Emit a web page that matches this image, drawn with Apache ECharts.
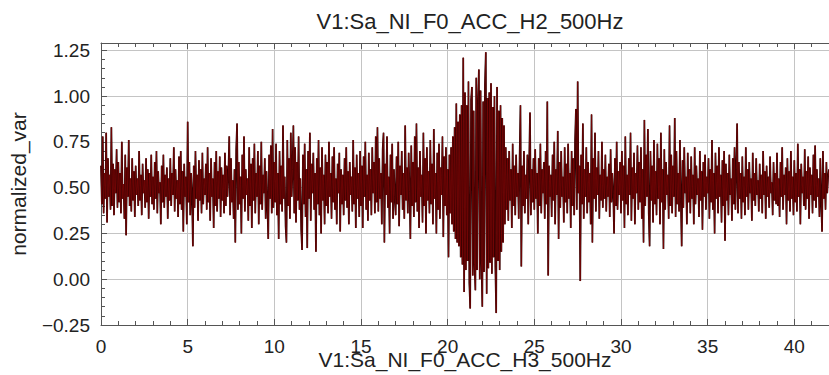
<!DOCTYPE html>
<html>
<head>
<meta charset="utf-8">
<script src="https://cdn.jsdelivr.net/npm/echarts@6/dist/echarts.min.js"></script>
<style>
html,body{margin:0;padding:0;background:#fff;}
#chart{width:829px;height:375px;}
</style>
</head>
<body>
<div id="chart"></div>
<script>
// ---- data (sample step 0.05 s) ----
const chartTitle = 'V1:Sa_NI_F0_ACC_H2_500Hz';
const xName = 'V1:Sa_NI_F0_ACC_H3_500Hz';
const yName = 'normalized_var';
const sampleStep = 0.05;
const xTicks = [0, 5, 10, 15, 20, 25, 30, 35, 40];
const yTicks = [-0.25, 0, 0.25, 0.5, 0.75, 1.0, 1.25];

const seg00_06 = [
 .62,.41,.78,.36,.58,.44,.80,.31,.66,.45,.57,.38,.83,.40,.63,.35,.60,.47,.71,.39,
 .64,.42,.58,.36,.75,.44,.52,.33,.68,.24,.61,.45,.76,.40,.55,.37,.66,.43,.59,.34,
 .62,.46,.55,.40,.70,.43,.57,.35,.63,.47,.54,.39,.66,.42,.60,.33,.58,.45,.68,.41,
 .56,.38,.64,.44,.70,.36,.59,.47,.53,.30,.62,.42,.68,.39,.57,.45,.61,.33,.55,.43,
 .66,.40,.58,.46,.72,.37,.60,.44,.54,.34,.67,.41,.70,.38,.59,.26,.63,.45,.56,.30,
 .86,.42,.64,.35,.58,.47,.18,.62,.39,.70,.44,.57,.32,.65,.43,.60,.36,.69,.41,.55
];
const seg06_12 = [
 .46,.63,.38,.72,.42,.58,.32,.66,.45,.55,.28,.64,.40,.70,.37,.59,.44,.67,.34,.61,
 .43,.57,.36,.69,.40,.62,.45,.58,.78,.35,.66,.42,.54,.33,.60,.20,.71,.85,.38,.64,
 .41,.56,.25,.68,.44,.78,.37,.60,.46,.55,.32,.72,.40,.63,.28,.66,.43,.74,.36,.58,
 .45,.70,.30,.62,.41,.75,.38,.57,.47,.66,.33,.59,.40,.22,.68,.44,.73,.36,.82,.39,
 .64,.42,.74,.35,.58,.22,.70,.41,.62,.37,.84,.44,.56,.29,.20,.76,.40,.66,.33,.80,
 .45,.60,.84,.36,.72,.31,.64,.43,.78,.38,.55,.27,.16,.68,.41,.74,.34,.60,.17,.70
];
const seg12_18 = [
 .44,.80,.32,.63,.47,.69,.38,.58,.15,.66,.41,.76,.35,.61,.25,.72,.43,.57,.30,.68,
 .40,.64,.36,.75,.45,.58,.33,.67,.42,.72,.38,.55,.30,.63,.47,.69,.26,.60,.41,.57,
 .35,.66,.43,.72,.39,.59,.30,.64,.46,.56,.37,.76,.41,.61,.28,.68,.44,.58,.34,.70,
 .40,.62,.28,.67,.45,.75,.38,.57,.32,.69,.43,.60,.35,.72,.47,.64,.36,.78,.42,.83,
 .37,.66,.44,.58,.30,.71,.80,.20,.63,.46,.78,.39,.56,.25,.68,.42,.74,.33,.60,.45,
 .35,.67,.41,.75,.29,.62,.46,.70,.38,.58,.33,.84,.43,.61,.36,.69,.48,.22,.73,.40
];
const seg18_24 = [
 .64,.34,.78,.42,.85,.37,.61,.28,.70,.45,.57,.31,.80,.40,.66,.25,.72,.43,.59,.36,
 .76,.41,.63,.30,.82,.44,.58,.25,.69,.38,.74,.33,.61,.46,.78,.23,.67,.40,.72,.35,
 .60,.12,.68,.36,.72,.30,.78,.26,.83,.22,.96,.20,.86,.18,.90,.12,.95,.08,1.21,-.07,
 1.02,.05,.95,.10,1.08,-.02,-.16,.98,1.05,.02,.92,.08,-.06,1.10,.05,.96,1.145,.00,1.03,.10,
 -.15,.97,.04,1.06,1.24,-.08,.99,.06,1.02,.09,1.07,.03,.94,.12,1.00,.07,-.185,1.05,.10,.92,
 .05,.95,.15,.88,.20,.84,.30,.72,.38,.66,.32,.70,.43,.60,.28,.74,.40,.62,.35,.68
];
const seg24_30 = [
 .45,.58,.33,.66,.95,.07,.62,.40,.70,.36,.57,.44,.68,.30,.63,.91,.35,.60,.42,.66,
 .38,.71,.44,.58,.25,.66,.40,.74,.36,.60,.47,.64,.33,.70,.41,.97,.02,.62,.45,.57,
 .34,.68,.43,.75,.30,.60,.46,.81,.22,.64,.39,.70,.45,.56,.31,.72,.42,.63,.36,.74,
 .44,.58,.28,.70,.40,.66,.35,.76,.93,.38,1.08,.47,.62,-.01,.68,.41,.85,.33,.60,.45,
 .72,.36,.64,.42,.58,.30,.90,.20,.66,.44,.80,.37,.61,.46,.70,.33,.57,.43,.75,.39,
 .60,.44,.68,.37,.56,.45,.63,.34,.71,.42,.58,.47,.25,.66,.40,.75,.38,.59,.46,.64
];
const seg30_36 = [
 .36,.70,.43,.62,.28,.78,.41,.57,.35,.66,.46,.80,.32,.61,.44,.69,.30,.58,.47,.73,
 .38,.64,.42,.72,.33,.60,.20,.87,.40,.68,.45,.82,.36,.18,.70,.43,.62,.31,.76,.41,
 .59,.35,.74,.44,.66,.30,.80,.42,.60,.165,.71,.38,.64,.46,.57,.33,.84,.40,.68,.36,
 .62,.45,.88,.34,.70,.41,.58,.37,.76,.44,.18,.65,.39,.72,.47,.56,.30,.69,.42,.60,
 .36,.67,.44,.57,.30,.72,.41,.62,.46,.55,.34,.70,.43,.59,.27,.64,.45,.68,.38,.56,
 .47,.66,.33,.60,.42,.76,.38,.58,.25,.69,.44,.62,.36,.72,.45,.57,.31,.65,.40,.70
];
const seg36_42 = [
 .21,.63,.43,.58,.35,.68,.46,.55,.32,.66,.41,.72,.38,.60,.85,.36,.64,.44,.58,.33,
 .67,.42,.56,.35,.72,.45,.60,.38,.64,.47,.55,.32,.69,.43,.58,.40,.66,.46,.54,.37,
 .63,.44,.57,.36,.70,.46,.59,.33,.62,.45,.56,.39,.67,.47,.53,.35,.64,.43,.58,.41,
 .69,.40,.55,.34,.64,.45,.72,.38,.57,.46,.61,.30,.66,.43,.59,.37,.70,.44,.56,.35,
 .65,.42,.58,.37,.74,.45,.60,.30,.63,.47,.56,.40,.71,.38,.59,.44,.67,.33,.61,.46,
 .57,.36,.68,.43,.73,.39,.60,.45,.55,.34,.66,.42,.26,.70,.44,.58,.38,.64,.47,.56,
 .60
];

// ---- build ----
const values = [].concat(seg00_06, seg06_12, seg12_18, seg18_24, seg24_30, seg30_36, seg36_42);
const seriesData = values.map((v, i) => [+(i * sampleStep).toFixed(2), v]);

const X_MIN = 0, X_MAX = 42, Y_MIN = -0.25, Y_MAX = 1.29;
const axisColor = '#555';
const labelFont = { fontFamily: '"Liberation Sans", Arial, sans-serif', fontSize: 19, color: '#222' };
const nameFont = { fontFamily: '"Liberation Sans", Arial, sans-serif', fontSize: 21, color: '#222' };

function tickAxis(extra) {
  return Object.assign({
    type: 'value', axisLine: { show: false, onZero: false }, axisLabel: { show: false },
    splitLine: { show: false }, axisTick: { show: true, inside: true, length: 4, lineStyle: { color: axisColor } }
  }, extra);
}

const chart = echarts.init(document.getElementById('chart'), null, { renderer: 'svg' });
chart.setOption({
  animation: false,
  backgroundColor: '#fff',
  title: {
    text: chartTitle, left: 465, top: 5, textAlign: 'center',
    textStyle: { fontFamily: '"Liberation Sans", Arial, sans-serif', fontSize: 22, fontWeight: 'normal', color: '#222' }
  },
  grid: { left: 101, right: 0, top: 43, bottom: 50, containLabel: false, outerBoundsMode: 'none' },
  xAxis: [
    {
      type: 'value', min: X_MIN, max: X_MAX, interval: 5, position: 'bottom',
      name: xName, nameLocation: 'middle', nameGap: 24, nameMoveOverlap: false, nameTextStyle: nameFont,
      axisLine: { show: true, onZero: false, lineStyle: { color: axisColor, width: 1 } },
      axisTick: { show: true, inside: true, length: 6, lineStyle: { color: axisColor } },
      axisLabel: Object.assign({ margin: 12, showMaxLabel: false,
        formatter: v => (xTicks.indexOf(v) >= 0 ? String(v) : '') }, labelFont),
      splitLine: { show: true, lineStyle: { color: '#c4c4c4', width: 1 } }
    },
    tickAxis({ min: X_MIN, max: X_MAX, interval: 1, position: 'bottom' }),
    {
      type: 'value', min: X_MIN, max: X_MAX, interval: 5, position: 'top',
      axisLine: { show: true, onZero: false, lineStyle: { color: axisColor, width: 1 } },
      axisTick: { show: true, inside: true, length: 6, lineStyle: { color: axisColor } },
      axisLabel: { show: false }, splitLine: { show: false }
    },
    tickAxis({ min: X_MIN, max: X_MAX, interval: 1, position: 'top' })
  ],
  yAxis: [
    {
      type: 'value', min: Y_MIN, max: Y_MAX, interval: 0.25, position: 'left',
      name: yName, nameLocation: 'middle', nameGap: 72, nameMoveOverlap: false, nameTextStyle: nameFont,
      axisLine: { show: true, onZero: false, lineStyle: { color: axisColor, width: 1 } },
      axisTick: { show: true, inside: true, length: 6, lineStyle: { color: axisColor } },
      axisLabel: Object.assign({ margin: 11, showMaxLabel: false,
        formatter: v => {
          const hit = yTicks.some(t => Math.abs(t - v) < 1e-6);
          if (!hit) return '';
          return v < 0 ? '\u2212' + Math.abs(v).toFixed(2) : v.toFixed(2);
        } }, labelFont),
      splitLine: { show: true, lineStyle: { color: '#c4c4c4', width: 1 } }
    },
    tickAxis({ min: Y_MIN, max: Y_MAX, interval: 0.05, position: 'left' })
  ],
  series: [
    {
      type: 'line', xAxisIndex: 0, yAxisIndex: 0, data: seriesData,
      showSymbol: false, symbol: 'none', sampling: null, smooth: false,
      lineStyle: { color: '#1a0000', width: 1.7 }, z: 1, silent: true
    },
    {
      type: 'line', xAxisIndex: 0, yAxisIndex: 0, data: seriesData,
      showSymbol: false, symbol: 'none', sampling: null, smooth: false,
      lineStyle: { color: '#7a0606', width: 0.8 }, z: 2, silent: true
    }
  ]
});
</script>
</body>
</html>
